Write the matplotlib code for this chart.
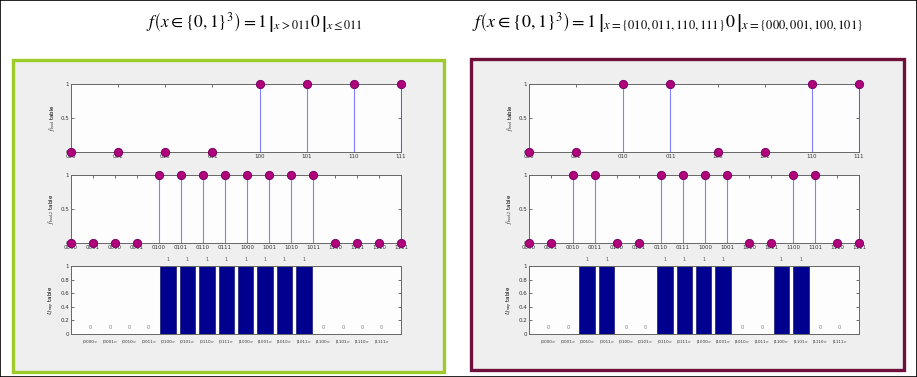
import numpy as np
import matplotlib.pyplot as plt
from matplotlib.patches import Rectangle

plt.rcParams['mathtext.fontset'] = 'stix'

# data
lab3 = ['000', '001', '010', '011', '100', '101', '110', '111']
lab4 = ['0000', '0001', '0010', '0011', '0100', '0101', '0110', '0111',
        '1000', '1001', '1010', '1011', '1100', '1101', '1110', '1111']
ket4 = ['|' + s + '>' for s in lab4]

izq_f3 = [0, 0, 0, 0, 1, 1, 1, 1]
izq_f4 = [0, 0, 0, 0, 1, 1, 1, 1, 1, 1, 1, 1, 0, 0, 0, 0]
izq_u = [0, 0, 0, 0, 1, 1, 1, 1, 1, 1, 1, 1, 0, 0, 0, 0]

der_f3 = [0, 0, 1, 1, 0, 0, 1, 1]
der_f4 = [0, 0, 1, 1, 0, 0, 1, 1, 1, 1, 0, 0, 1, 1, 0, 0]
der_u = [0, 0, 1, 1, 0, 0, 1, 1, 1, 1, 0, 0, 1, 1, 0, 0]

titulo_izq = (r'$f\left(x\in\left\{0,1\right\}^{3}_{\,}\right)=\left.1^{\,}_{\,}\right|_{x>011}'
              r'\left.0^{\,}_{\,}\right|_{x\leq011}$')
titulo_der = (r'$f\left(x\in\left\{0,1\right\}^{3}_{\,}\right)=\left.1^{\,}_{\,}\right|_{x=\{010,011,110,111\}}'
              r'\left.0^{\,}_{\,}\right|_{x=\{000,001,100,101\}}$')

W, H = 917, 377
fig = plt.figure(figsize=(W/100, H/100), dpi=100)
fig.patch.set_facecolor('white')

def px(x0, y0, x1, y1):
    return [x0/W, 1 - y1/H, (x1-x0)/W, (y1-y0)/H]

# marco exterior y paneles
fig.patches.append(Rectangle((0, 0), 1, 1, transform=fig.transFigure,
                             fill=False, edgecolor='black', lw=1.2, zorder=-1))
for caja, color in [(px(13, 60, 444, 372), '#9ccb2a'), (px(471, 59, 904, 370), '#6e0f3c')]:
    fig.patches.append(Rectangle((caja[0], caja[1]), caja[2], caja[3],
                                 transform=fig.transFigure, facecolor='#efefef',
                                 edgecolor=color, lw=2.4, zorder=-1))

fig.text(254/W, 1 - 23/H, titulo_izq, ha='center', va='center', fontsize=12.5)
fig.text(668/W, 1 - 23/H, titulo_der, ha='center', va='center', fontsize=13)

def estilo(ax):
    ax.set_facecolor('#fdfdfd')
    for s in ax.spines.values():
        s.set_color('#666666')
        s.set_linewidth(0.7)
    ax.tick_params(direction='in', top=True, right=True, length=2, width=0.5,
                   labelsize=4, pad=1.5, colors='#333333')

def tallo(ax, etiquetas, vals, ylab):
    x = np.arange(1, len(vals) + 1)
    ml, sl, bl = ax.stem(x, vals)
    plt.setp(sl, color='#8080ff', linewidth=0.8)
    plt.setp(ml, marker='o', markersize=6, markerfacecolor='#b0007a',
             markeredgecolor='#700060', markeredgewidth=0.6, clip_on=False, zorder=5)
    bl.set_visible(False)
    ax.set_xlim(1, len(vals))
    ax.set_ylim(0, 1)
    ax.set_xticks(x)
    ax.set_xticklabels(etiquetas)
    ax.set_yticks([0, 0.5, 1])
    ax.set_yticklabels(['0', '0.5', '1'])
    ax.set_ylabel(ylab, fontsize=4, labelpad=2)
    estilo(ax)

def barras(ax, etiquetas, vals, ylab):
    x = np.arange(1, len(vals) + 1)
    ax.bar(x, vals, width=0.8, color='#00008f', edgecolor='#000060', linewidth=0.4)
    for xi, v in zip(x, vals):
        if v:
            ax.text(xi, 1.06, '1', ha='center', va='bottom', fontsize=3.5, color='#555555')
        else:
            ax.text(xi, 0.06, '0', ha='center', va='bottom', fontsize=3.5, color='#777777')
    ax.set_xlim(0, len(vals) + 1)
    ax.set_ylim(0, 1)
    ax.set_xticks(x)
    ax.set_xticklabels(etiquetas)
    ax.set_yticks([0, 0.2, 0.4, 0.6, 0.8, 1])
    ax.set_yticklabels(['0', '0.2', '0.4', '0.6', '0.8', '1'])
    ax.set_ylabel(ylab, fontsize=4, labelpad=2)
    estilo(ax)
    ax.tick_params(axis='x', length=0, labelsize=3, pad=4)

for x0, f3, f4, u in [(71, izq_f3, izq_f4, izq_u), (529, der_f3, der_f4, der_u)]:
    a1 = fig.add_axes(px(x0, 84, x0 + 330, 152))
    tallo(a1, lab3, f3, r'$f_{bool}$ table')
    a2 = fig.add_axes(px(x0, 175, x0 + 330, 243))
    tallo(a2, lab4, f4, r'$f_{bool,2}$ table')
    a3 = fig.add_axes(px(x0, 266, x0 + 330, 334))
    barras(a3, ket4, u, r'$U_{f map}$ table')

fig.savefig('out.png', dpi=100)
